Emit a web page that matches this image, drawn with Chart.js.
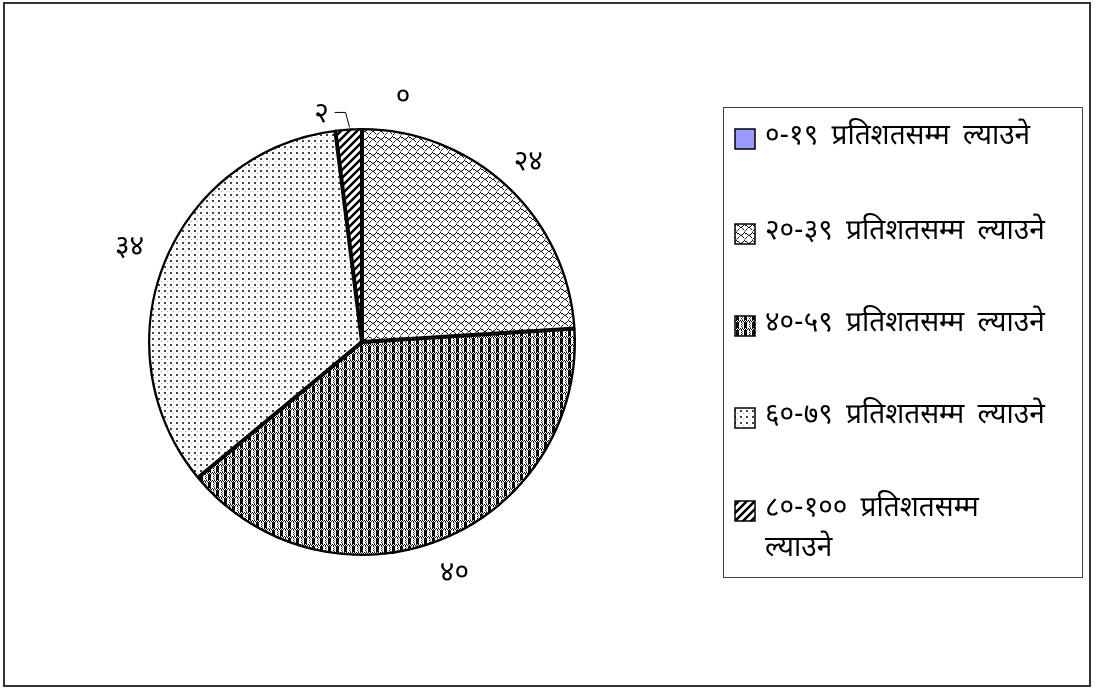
<!DOCTYPE html>
<html>
<head>
<meta charset="utf-8">
<script src="https://cdn.jsdelivr.net/npm/chart.js@4.4.1/dist/chart.umd.min.js"></script>
<style>
  html, body { margin: 0; padding: 0; background: #fff; }
  #wrap { position: relative; width: 1096px; height: 691px; }
  #frame { position: absolute; left: 3px; top: 2px; width: 1088px; height: 685px; border: 2px solid #333; box-sizing: border-box; pointer-events: none; }
</style>
</head>
<body>
<div id="wrap">
  <canvas id="c" width="1096" height="691"></canvas>
  <div id="frame"></div>
</div>
<script>
const categories = [
  '०-१९ प्रतिशतसम्म ल्याउने',
  '२०-३९ प्रतिशतसम्म ल्याउने',
  '४०-५९ प्रतिशतसम्म ल्याउने',
  '६०-७९ प्रतिशतसम्म ल्याउने',
  '८०-१०० प्रतिशतसम्म ल्याउने'
];
const values = [0, 24, 40, 34, 2];
const valueLabels = ['०', '२४', '४०', '३४', '२'];

const FONT = "'Noto Sans Devanagari', 'Lohit Devanagari', 'Mangal', 'Noto Sans', 'DejaVu Sans', sans-serif";

function makeTile(w, h, draw) {
  const cv = document.createElement('canvas');
  cv.width = w; cv.height = h;
  const g = cv.getContext('2d');
  g.fillStyle = '#fff';
  g.fillRect(0, 0, w, h);
  draw(g);
  return document.getElementById('c').getContext('2d').createPattern(cv, 'repeat');
}

// light zigzag hatch
const patHatch = makeTile(8, 8, g => {
  g.fillStyle = '#111';
  [[0,0],[1,1],[2,1],[3,2],[4,3],[5,3],[6,4],[7,5]].forEach(p => g.fillRect(p[0], p[1], 1, 1));
  [[7,1],[6,2],[1,6],[2,5]].forEach(p => g.fillRect(p[0], p[1], 1, 1));
  g.fillStyle = '#888';
  [[0,7],[3,4],[5,2]].forEach(p => g.fillRect(p[0], p[1], 1, 1));
});
// dark checker with grey dithered bands
const patCheck = makeTile(8, 8, g => {
  g.fillStyle = '#000';
  for (let y = 0; y < 2; y++)
    for (let x = 0; x < 8; x++)
      if ((x + y) % 2 === 0) g.fillRect(x, y, 1, 1);
  g.fillRect(0, 2, 3, 6);
  for (let y = 2; y < 8; y++) if (y % 2 === 0) g.fillRect(5, y, 1, 1);
  g.fillStyle = '#666';
  g.fillRect(6, 3, 1, 1);
  g.fillRect(6, 5, 1, 1);
  g.fillRect(6, 7, 1, 1);
});
// sparse dots
const patDots = makeTile(6, 6, g => {
  g.fillStyle = '#444';
  g.fillRect(2, 2, 2, 2);
  g.fillStyle = '#aaa';
  g.fillRect(5, 5, 1, 1);
});
// bold diagonal stripes
const patStripe = makeTile(8, 8, g => {
  g.strokeStyle = '#000';
  g.lineWidth = 2.5;
  g.beginPath();
  g.moveTo(-2, 10); g.lineTo(10, -2);
  g.moveTo(-6, 6); g.lineTo(6, -6);
  g.moveTo(2, 14); g.lineTo(14, 2);
  g.stroke();
});

const fills = ['#9999FF', patHatch, patCheck, patDots, patStripe];

// extra radius for each value label (null = placed specially)
const labelOffsets = [null, 29, 37, 36, null];

const labelPlugin = {
  id: 'labels',
  afterDatasetsDraw(chart) {
    const ctx = chart.ctx;
    const arcs = chart.getDatasetMeta(0).data;
    ctx.save();
    ctx.fillStyle = '#000';
    ctx.font = '28px ' + FONT;
    ctx.textAlign = 'center';
    ctx.textBaseline = 'middle';
    arcs.forEach((arc, i) => {
      const mid = (arc.startAngle + arc.endAngle) / 2;
      const r = arc.outerRadius;
      if (labelOffsets[i] !== null) {
        const rr = r + labelOffsets[i];
        ctx.fillText(valueLabels[i], arc.x + Math.cos(mid) * rr, arc.y + Math.sin(mid) * rr);
      } else if (i === 0) {
        ctx.fillText(valueLabels[i], arc.x + 41, arc.y - r - 28);
      } else {
        // small slice with leader line
        const px = arc.x + Math.cos(mid) * r, py = arc.y + Math.sin(mid) * r;
        ctx.strokeStyle = '#000';
        ctx.lineWidth = 1;
        ctx.beginPath();
        ctx.moveTo(px + 1, py - 1);
        ctx.lineTo(px - 3, py - 16);
        ctx.lineTo(px - 14, py - 16);
        ctx.stroke();
        ctx.fillText(valueLabels[i], px - 27, py - 12);
      }
    });
    ctx.restore();
  }
};

const legendPlugin = {
  id: 'sideLegend',
  afterDraw(chart) {
    const ctx = chart.ctx;
    const bx = 723, by = 107, bw = 359, bh = 470;
    ctx.save();
    ctx.strokeStyle = '#444';
    ctx.lineWidth = 1;
    ctx.strokeRect(bx + 0.5, by + 0.5, bw, bh);
    ctx.font = '28px ' + FONT;
    ctx.textBaseline = 'middle';
    ctx.wordSpacing = '6px';
    ctx.fillStyle = '#000';
    const rows = [139, 234, 326, 418, 511];
    categories.forEach((cat, i) => {
      const y = rows[i];
      ctx.fillStyle = fills[i];
      ctx.fillRect(735, y - 10, 20, 20);
      ctx.strokeStyle = '#000';
      ctx.lineWidth = 1.5;
      ctx.strokeRect(735, y - 10, 20, 20);
      ctx.fillStyle = '#000';
      const parts = cat.split(' ');
      if (i === 4) {
        ctx.fillText(parts[0] + ' ' + parts[1], 765, y);
        ctx.fillText(parts[2], 765, y + 40);
      } else {
        ctx.fillText(parts.join(' '), 765, y);
      }
    });
    ctx.restore();
  }
};

new Chart(document.getElementById('c'), {
  type: 'pie',
  data: {
    labels: categories,
    datasets: [{
      data: values,
      backgroundColor: fills,
      borderColor: '#000',
      borderWidth: 2,
      borderAlign: 'inner'
    }]
  },
  options: {
    responsive: false,
    animation: false,
    layout: { padding: { left: 148, right: 520, top: 128, bottom: 135 } },
    plugins: {
      legend: { display: false },
      tooltip: { enabled: false }
    }
  },
  plugins: [labelPlugin, legendPlugin]
});
</script>
</body>
</html>
